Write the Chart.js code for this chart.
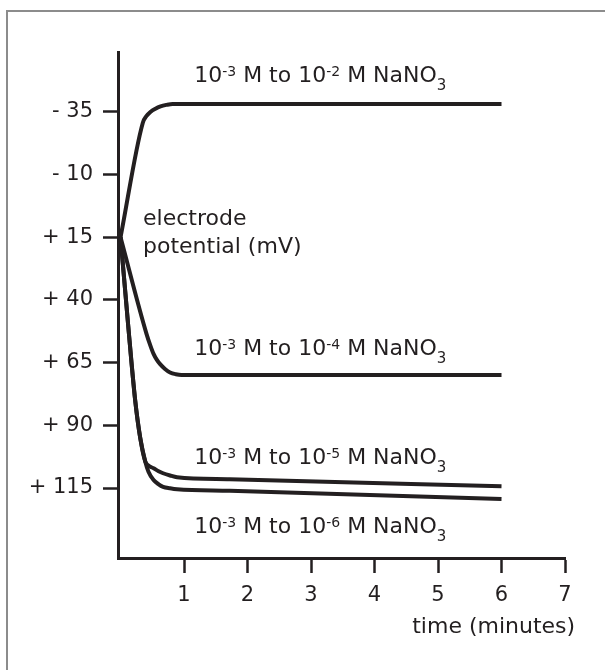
<!DOCTYPE html>
<html>
<head>
<meta charset="utf-8">
<script src="https://cdn.jsdelivr.net/npm/chart.js@4.4.1/dist/chart.umd.min.js"></script>
<style>
html, body { margin: 0; padding: 0; background: #fff; }
#wrap { position: relative; width: 605px; height: 670px; overflow: hidden; }
#frame { position: absolute; left: 6px; top: 10px; right: -10px; bottom: -10px;
         border-top: 2px solid #8c8c8c; border-left: 2px solid #8c8c8c; }
#c { position: absolute; left: 0; top: 0; }
</style>
</head>
<body>
<div id="wrap">
  <div id="frame"></div>
  <canvas id="c" width="605" height="670"></canvas>
</div>
<script>
const INK = '#231f20';
const FONT = '"DejaVu Sans", sans-serif';

// time (minutes) vs electrode potential (mV)
const time2 = [0, 0.35, 0.41, 0.47, 0.55, 0.63, 0.72, 0.82, 6];
const mv2 = [15, -30.6, -33.4, -35.0, -36.3, -37.2, -37.8, -38.2, -38.2];
const time4 = [0, 0.41, 0.47, 0.52, 0.57, 0.62, 0.70, 0.78, 0.87, 0.96, 6];
const mv4 = [15, 53.6, 58.2, 61.5, 63.8, 65.5, 67.5, 68.9, 69.6, 69.9, 69.9];
const time5 = [0, 0.12, 0.23, 0.31, 0.39, 0.45, 0.52, 0.60, 0.67, 0.78, 0.89, 1.72, 6];
const mv5 = [15, 50, 79.9, 95, 104.5, 106.2, 107.1, 108.3, 109.1, 110.0, 110.7, 111.5, 114.3];
const time6 = [0, 0.12, 0.23, 0.31, 0.39, 0.44, 0.52, 0.60, 0.67, 0.78, 0.89, 1.72, 6];
const mv6 = [15, 50, 79.9, 95, 104.5, 108.5, 111.8, 113.5, 114.5, 115.1, 115.5, 116.1, 119.4];

// curve names (^{} = superscript, _{} = subscript)
const seriesNames = [
    '10^{-3} M to 10^{-2} M NaNO_{3}',
    '10^{-3} M to 10^{-4} M NaNO_{3}',
    '10^{-3} M to 10^{-5} M NaNO_{3}',
    '10^{-3} M to 10^{-6} M NaNO_{3}'
];

const yTickValues = [-35, -10, 15, 40, 65, 90, 115];
const yTickLabels = ['- 35', '- 10', '+ 15', '+ 40', '+ 65', '+ 90', '+ 115'];
const xTickValues = [1, 2, 3, 4, 5, 6, 7];
const yTitle = ['electrode', 'potential (mV)'];
const xTitle = 'time (minutes)';

function toPoints(xs, ys) {
    return xs.map((x, i) => ({ x: x, y: ys[i] }));
}

// draw text with ^{..} and _{..} parts
function drawRich(ctx, str, x, y) {
    const parts = str.split(/(\^\{[^}]*\}|_\{[^}]*\})/).filter(Boolean);
    for (const p of parts) {
        let size = 22, dy = 0, t = p;
        if (p[0] === '^') { t = p.slice(2, -1); size = 14; dy = -6; }
        else if (p[0] === '_') { t = p.slice(2, -1); size = 15; dy = 8; }
        ctx.font = size + 'px ' + FONT;
        ctx.fillText(t, x, y + dy);
        x += ctx.measureText(t).width;
    }
}

// where each curve name sits (time, mV of the text baseline)
const namePlaces = [[1.16, -47], [1.16, 61.8], [1.16, 105.4], [1.16, 132.9]];

const labelPlugin = {
    id: 'labels',
    afterDraw(chart) {
        const ctx = chart.ctx;
        const xs = chart.scales.x, ys = chart.scales.y;
        ctx.save();
        ctx.fillStyle = INK;
        ctx.textBaseline = 'alphabetic';
        ctx.textAlign = 'left';
        seriesNames.forEach((name, i) => {
            drawRich(ctx, name, xs.getPixelForValue(namePlaces[i][0]), ys.getPixelForValue(namePlaces[i][1]));
        });
        ctx.font = '22px ' + FONT;
        ctx.fillText(yTitle[0], xs.getPixelForValue(0.354), ys.getPixelForValue(10.2));
        ctx.fillText(yTitle[1], xs.getPixelForValue(0.354), ys.getPixelForValue(21.4));
        ctx.textAlign = 'right';
        ctx.fillText(xTitle, xs.getPixelForValue(7.16), chart.chartArea.bottom + 75);
        ctx.restore();
    }
};

const lineStyle = {
    borderColor: INK,
    borderWidth: 4,
    pointRadius: 0,
    cubicInterpolationMode: 'monotone',
    borderCapStyle: 'butt',
    borderJoinStyle: 'round',
    fill: false
};

const axisGrid = {
    display: true,
    drawOnChartArea: false,
    drawTicks: true,
    tickLength: 15,
    tickWidth: 2.5,
    tickColor: INK,
    color: INK
};

new Chart(document.getElementById('c'), {
    type: 'line',
    data: {
        datasets: [
            Object.assign({ data: toPoints(time2, mv2) }, lineStyle),
            Object.assign({ data: toPoints(time4, mv4) }, lineStyle),
            Object.assign({ data: toPoints(time5, mv5) }, lineStyle),
            Object.assign({ data: toPoints(time6, mv6) }, lineStyle)
        ]
    },
    options: {
        responsive: false,
        animation: false,
        layout: { padding: { top: 52, right: 40, left: 0, bottom: 0 } },
        plugins: { legend: { display: false }, tooltip: { enabled: false } },
        scales: {
            x: {
                type: 'linear',
                min: -0.04,
                max: 7,
                afterBuildTicks: s => { s.ticks = xTickValues.map(v => ({ value: v })); },
                afterFit: s => { s.height = 112; },
                border: { color: INK, width: 3 },
                grid: axisGrid,
                ticks: { padding: 10, color: INK, font: { family: FONT, size: 21 }, maxRotation: 0, autoSkip: false }
            },
            y: {
                type: 'linear',
                reverse: true,
                min: -58.9,
                max: 142.9,
                afterBuildTicks: s => { s.ticks = yTickValues.map(v => ({ value: v })); },
                afterFit: s => { s.width = 118; },
                border: { color: INK, width: 3 },
                grid: axisGrid,
                ticks: {
                    padding: 10, color: INK, font: { family: FONT, size: 21 }, autoSkip: false,
                    callback: (v, i) => yTickLabels[i]
                }
            }
        }
    },
    plugins: [labelPlugin]
});
</script>
</body>
</html>
